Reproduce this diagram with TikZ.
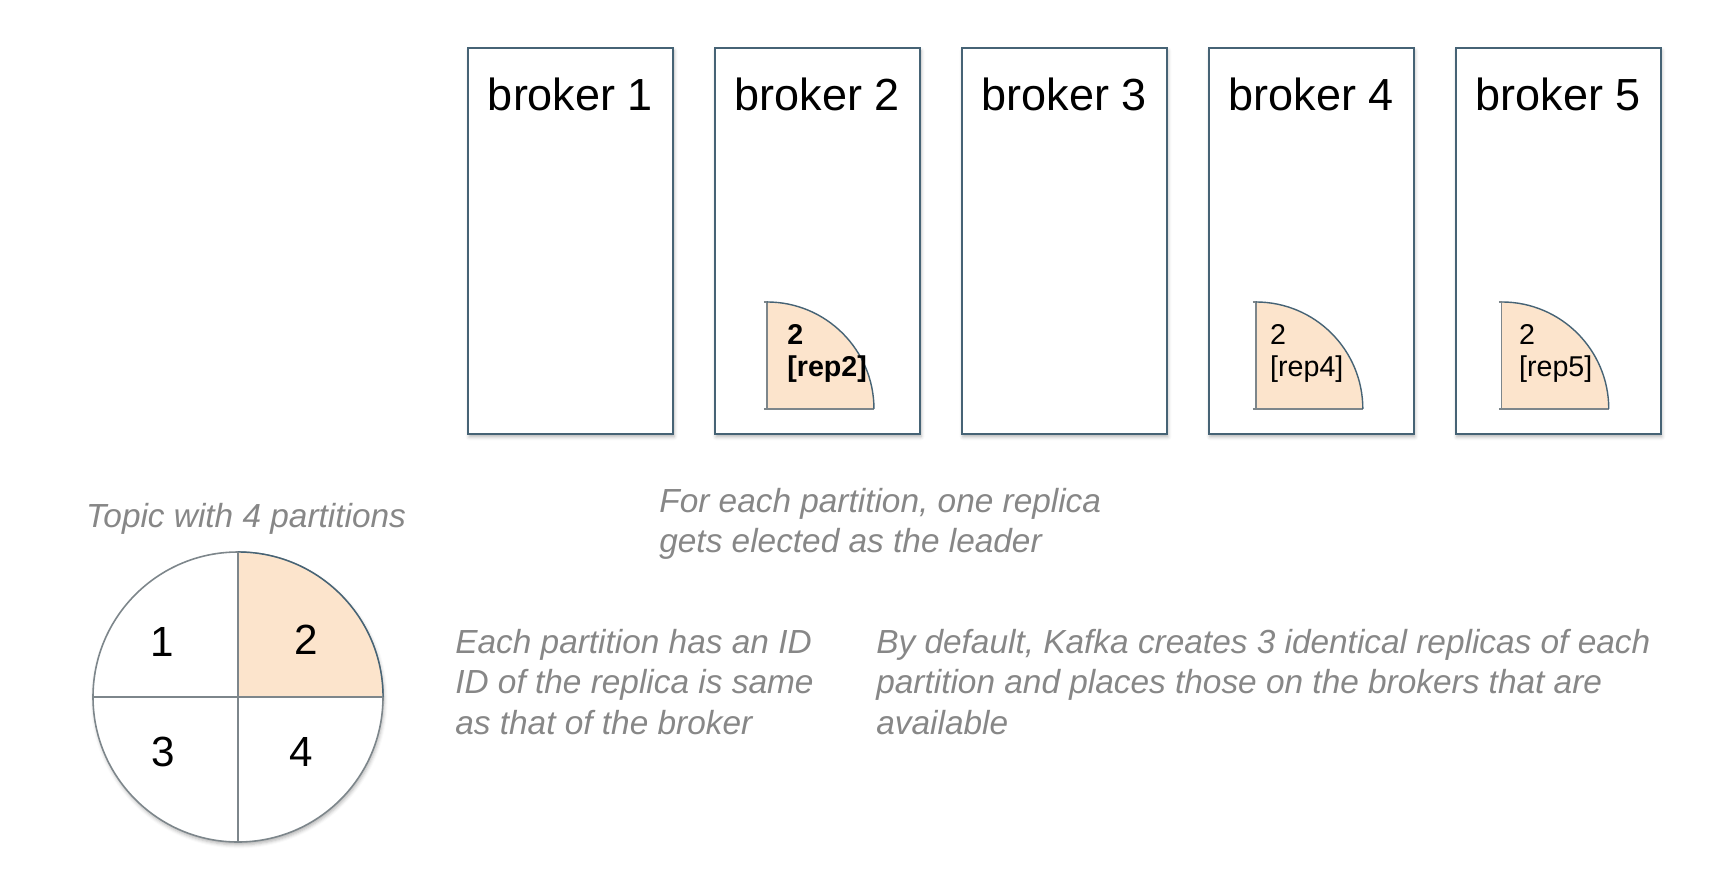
\documentclass[tikz,border=0pt]{standalone}
\usepackage{fontspec}
\setmainfont{Liberation Sans}
\usetikzlibrary{positioning,shadows.blur}
\definecolor{boxline}{RGB}{70,99,117}
\definecolor{rimgray}{RGB}{125,134,139}
\definecolor{peach}{RGB}{252,228,204}
\definecolor{notegray}{RGB}{135,135,135}

\begin{document}
\begin{tikzpicture}
  \tikzset{broker/.style={draw=boxline,line width=1.1pt,fill=white,minimum width=4.1cm,minimum height=7.72cm,inner sep=0pt,
      blur shadow={shadow xshift=0.6pt,shadow yshift=-1.6pt,shadow blur radius=2pt,shadow opacity=30}},
    title/.style={anchor=base,inner sep=0pt,font=\fontsize{25.6}{30}\selectfont},
    replabel/.style={anchor=north west,inner sep=0pt,align=left,font=\fontsize{16.3}{18.2}\selectfont},
    leadlabel/.style={replabel,font=\fontsize{16.3}{18.2}\selectfont\bfseries},
    edge/.style={draw=rimgray,line width=0.8pt},
    rim/.style={draw=boxline,line width=0.8pt},
    note/.style={anchor=north west,inner sep=0pt,align=left,text=notegray,font=\fontsize{19}{23}\selectfont\itshape},
    digit/.style={inner sep=0pt,font=\fontsize{24}{28}\selectfont}}
  \useasboundingbox (0,0) rectangle (34.72,-17.6);

  % brokers
  \node[broker] (b1) at (11.41,-4.82) {};
  \node[broker, right=0.8cm of b1] (b2) {};
  \node[broker, right=0.8cm of b2] (b3) {};
  \node[broker, right=0.8cm of b3] (b4) {};
  \node[broker, right=0.8cm of b4] (b5) {};
  \node[title] (t1) at ([yshift=-1.26cm]b1.north) {broker 1};
  \node[title] (t2) at ([yshift=-1.26cm]b2.north) {broker 2};
  \node[title] (t3) at ([yshift=-1.26cm]b3.north) {broker 3};
  \node[title] (t4) at ([yshift=-1.26cm]b4.north) {broker 4};
  \node[title] (t5) at ([yshift=-1.26cm]b5.north) {broker 5};

  % replicas of partition 2
  \coordinate (r2) at ([xshift=1.06cm,yshift=0.52cm]b2.south west);
  \fill[peach] (r2) -- ++(0,2.14) arc (90:0:2.14) -- cycle;
  \draw[edge] ([xshift=-0.06cm]r2) -- ([xshift=2.14cm]r2);
  \draw[edge] ([xshift=-0.06cm,yshift=2.14cm]r2) -- ++(0.06,0) -- (r2);
  \draw[rim] ([yshift=2.14cm]r2) arc (90:0:2.14);
  \node[leadlabel] (l2) at ([xshift=0.4cm,yshift=1.7cm]r2) {2\\{[rep2]}};

  \coordinate (r4) at ([xshift=0.96cm,yshift=0.52cm]b4.south west);
  \fill[peach] (r4) -- ++(0,2.14) arc (90:0:2.14) -- cycle;
  \draw[edge] ([xshift=-0.06cm]r4) -- ([xshift=2.14cm]r4);
  \draw[edge] ([xshift=-0.06cm,yshift=2.14cm]r4) -- ++(0.06,0) -- (r4);
  \draw[rim] ([yshift=2.14cm]r4) arc (90:0:2.14);
  \node[replabel] (l4) at ([xshift=0.28cm,yshift=1.7cm]r4) {2\\{[rep4]}};

  \coordinate (r5) at ([xshift=0.94cm,yshift=0.52cm]b5.south west);
  \fill[peach] (r5) -- ++(0,2.14) arc (90:0:2.14) -- cycle;
  \draw[edge] ([xshift=-0.06cm]r5) -- ([xshift=2.14cm]r5);
  \draw[edge] ([xshift=-0.06cm,yshift=2.14cm]r5) -- ++(0.06,0) -- (r5);
  \draw[rim] ([yshift=2.14cm]r5) arc (90:0:2.14);
  \node[replabel] (l5) at ([xshift=0.34cm,yshift=1.7cm]r5) {2\\{[rep5]}};

  % topic with its partitions
  \node[circle,draw=rimgray,line width=0.9pt,fill=white,minimum size=5.8cm,inner sep=0pt,outer sep=0pt,
    blur shadow={shadow xshift=0.6pt,shadow yshift=-1.6pt,shadow blur radius=2pt,shadow opacity=30}] (topic) at (4.76,-13.94) {};
  \fill[peach] (topic.center) -- (topic.east) arc (0:90:2.9) -- cycle;
  \draw[rim] (topic.east) arc (0:90:2.9);
  \draw[edge] (topic.north) -- (topic.south);
  \draw[edge] (topic.west) -- (topic.east);
  \node[digit] (p1) at ([xshift=-1.52cm,yshift=1.1cm]topic.center) {1};
  \node[digit] (p2) at ([xshift=1.36cm,yshift=1.14cm]topic.center) {2};
  \node[digit] (p3) at ([xshift=-1.5cm,yshift=-1.1cm]topic.center) {3};
  \node[digit] (p4) at ([xshift=1.26cm,yshift=-1.1cm]topic.center) {4};

  % notes
  \node[note,anchor=base] (topicnote) at ([xshift=0.16cm,yshift=0.5cm]topic.north) {Topic with 4 partitions};
  \node[note] (leadnote) at (13.18,-9.76) {For each partition, one replica\\gets elected as the leader};
  \node[note] (idnote) at (9.1,-12.58) {Each partition has an ID\\ID of the replica is same\\as that of the broker};
  \node[note] (defnote) at (17.52,-12.58) {By default, Kafka creates 3 identical replicas of each\\partition and places those on the brokers that are\\available};
\end{tikzpicture}
\end{document}
